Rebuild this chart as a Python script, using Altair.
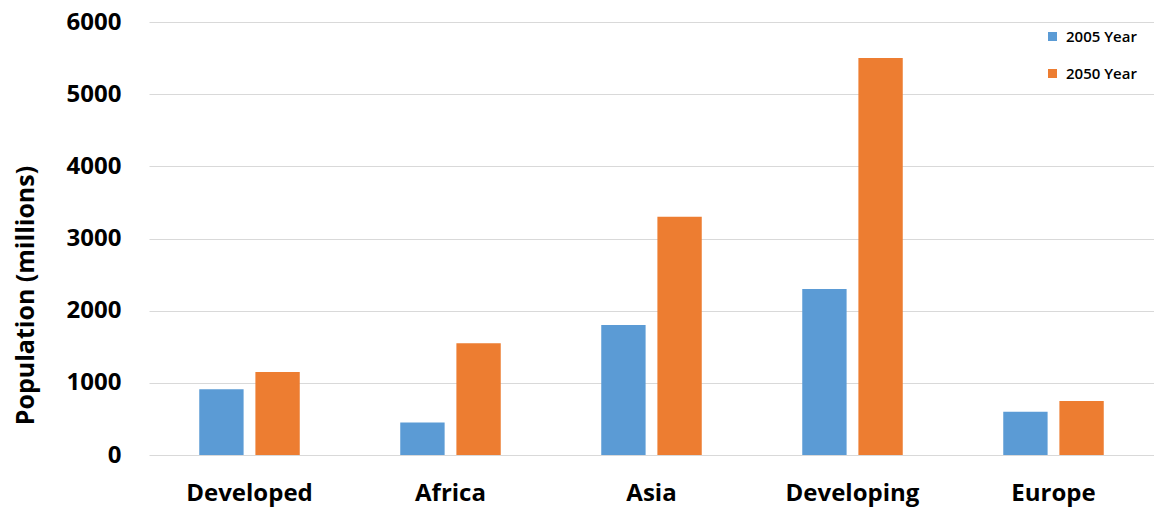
import altair as alt
import pandas as pd

regions = ["Developed", "Africa", "Asia", "Developing", "Europe"]
pop_2005 = [910, 450, 1800, 2300, 600]
pop_2050 = [1150, 1550, 3300, 5500, 750]
series = ["2005 Year", "2050 Year"]
colors = ["#5B9BD5", "#ED7D31"]

rows = []
for r, a, b in zip(regions, pop_2005, pop_2050):
    rows.append({"Region": r, "Series": series[0], "Population": a})
    rows.append({"Region": r, "Series": series[1], "Population": b})
df = pd.DataFrame(rows)

FONT = "Open Sans"

chart = alt.Chart(df).mark_bar().encode(
    x=alt.X("Region:N", sort=regions,
            scale=alt.Scale(paddingInner=0.5, paddingOuter=0.25),
            axis=alt.Axis(title=None, labelAngle=0, ticks=False, tickSize=0, domain=False,
                          grid=False,
                          labelFont=FONT, labelFontSize=24, labelFontWeight="bold",
                          labelColor="#000000", labelPadding=26)),
    xOffset=alt.XOffset("Series:N", sort=series,
                        scale=alt.Scale(paddingInner=0.21, paddingOuter=0)),
    y=alt.Y("Population:Q",
            scale=alt.Scale(domain=[0, 6000], nice=False),
            axis=alt.Axis(values=[0, 1000, 2000, 3000, 4000, 5000, 6000], format="d",
                          title="Population (millions)", ticks=False, tickSize=0, domain=False,
                          labelFont=FONT, labelFontSize=24, labelFontWeight="bold",
                          labelColor="#000000", labelPadding=28,
                          gridColor="#d9d9d9", gridWidth=1,
                          titleFont=FONT, titleFontSize=25, titleFontWeight="bold",
                          titleColor="#000000", titleAngle=-90,
                          titleX=-124, titleY=273, titleAlign="center",
                          titleBaseline="middle")),
    color=alt.Color("Series:N", sort=series,
                    scale=alt.Scale(domain=series, range=colors),
                    legend=alt.Legend(title=None, orient="none", legendX=896, legendY=7,
                                      symbolType="square", symbolSize=81,
                                      symbolStrokeWidth=0,
                                      labelFont=FONT, labelFontSize=15,
                                      labelFontWeight=600, labelColor="#000000",
                                      rowPadding=21, labelOffset=6)),
).properties(
    width=1005, height=433,
    background="white",
    autosize=alt.AutoSizeParams(type="none"),
    padding={"left": 149, "top": 22, "right": 0, "bottom": 53},
).configure_view(stroke=None)

chart.save("out.html", embed_options={"renderer": "svg", "actions": False})
